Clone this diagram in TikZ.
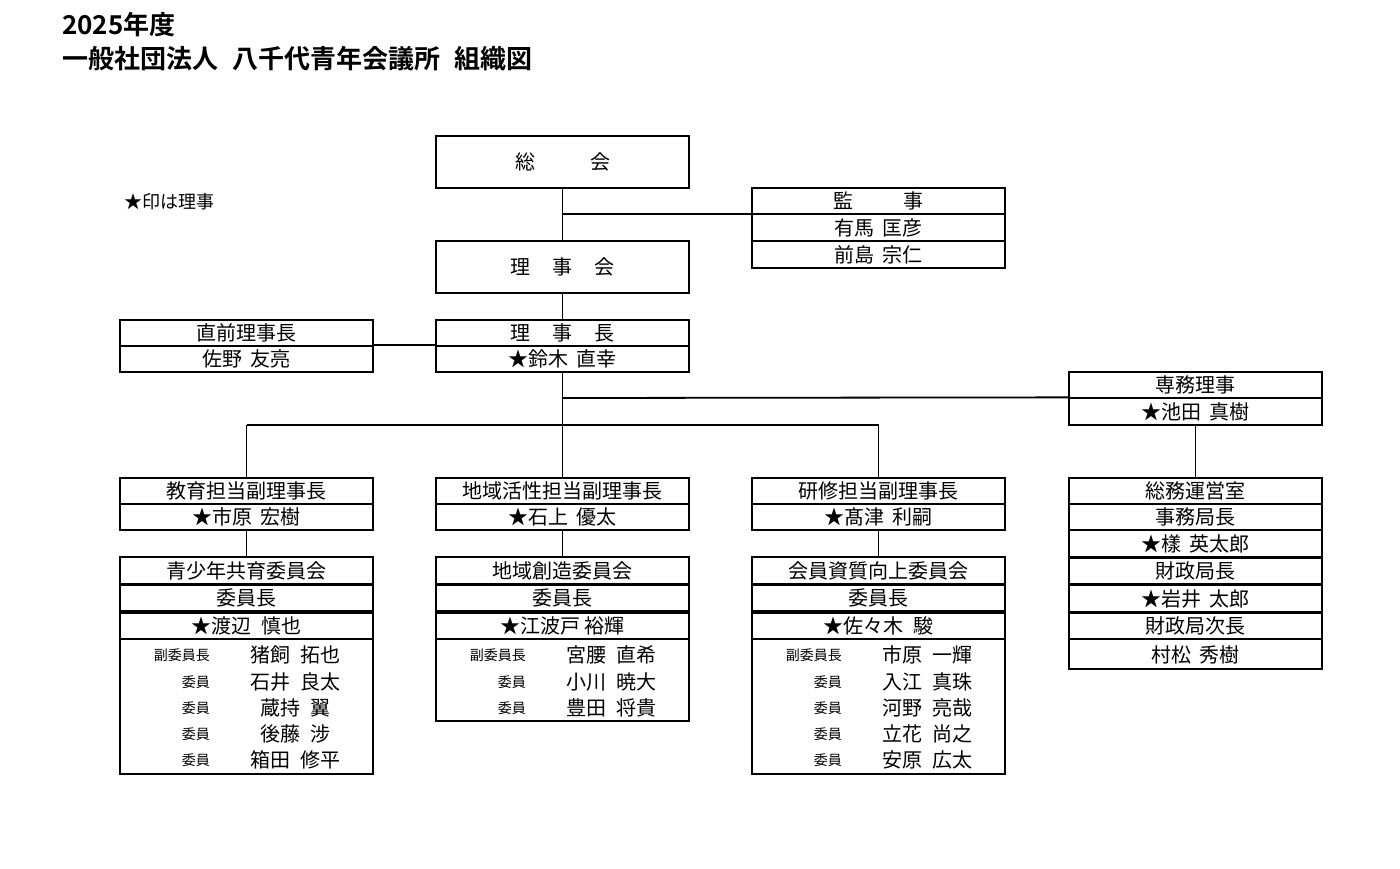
\documentclass[tikz,border=0pt]{standalone}
\usepackage{fontspec}
\setmainfont{Noto Sans CJK JP}
\newfontfamily\jpb{Noto Sans CJK JP Bold}
\begin{document}
\begin{tikzpicture}[x=1pt,y=-1pt,
  rowb/.style={draw,line width=1.8pt,minimum width=253pt,minimum height=26.5pt,inner sep=0pt,font=\fontsize{20}{20}\selectfont},
  bigb/.style={draw,line width=1.8pt,minimum width=253pt,minimum height=52pt,inner sep=0pt,font=\fontsize{20}{20}\selectfont},
  outer/.style={draw,line width=1.8pt,minimum width=253pt,inner sep=0pt},
  ln/.style={line width=1.8pt},
  lab/.style={anchor=east,inner sep=0pt,font=\fontsize{14}{14}\selectfont},
  nm/.style={inner sep=0pt,font=\fontsize{20}{20}\selectfont}]
\useasboundingbox (0,0) rectangle (1400,868);
\node[anchor=west,inner sep=0pt,font=\jpb\fontsize{26}{26}\selectfont] (t1) at (62,25) {2025年度};
\node[anchor=west,inner sep=0pt,font=\jpb\fontsize{26}{26}\selectfont] (t2) at (62,59) {一般社団法人\hspace{14pt}八千代青年会議所\hspace{14pt}組織図};
\node[anchor=west,inner sep=0pt,font=\fontsize{18}{18}\selectfont] (note) at (124,202) {★印は理事};
% top
\node[bigb] (soukai) at (562.5,162) {総\hspace{55pt}会};
\node[rowb] (kan1) at (878.5,201) {監\hspace{50pt}事};
\node[rowb] (kan2) at (878.5,227.5) {有馬\hspace{8pt}匡彦};
\node[rowb] (kan3) at (878.5,254.5) {前島\hspace{8pt}宗仁};
\node[bigb] (rijikai) at (562.5,267) {理\hspace{22pt}事\hspace{22pt}会};
\node[rowb] (zen1) at (246.5,333) {直前理事長};
\node[rowb] (zen2) at (246.5,359) {佐野\hspace{8pt}友亮};
\node[rowb] (ri1) at (562.5,333) {理\hspace{22pt}事\hspace{22pt}長};
\node[rowb] (ri2) at (562.5,359) {★鈴木\hspace{8pt}直幸};
\node[rowb] (sen1) at (1195.5,385) {専務理事};
\node[rowb] (sen2) at (1195.5,411.5) {★池田\hspace{8pt}真樹};
% VPs
\node[rowb] (v11) at (246.5,491) {教育担当副理事長};
\node[rowb] (v12) at (246.5,517) {★市原\hspace{8pt}宏樹};
\node[rowb] (v21) at (562.5,491) {地域活性担当副理事長};
\node[rowb] (v22) at (562.5,517) {★石上\hspace{8pt}優太};
\node[rowb] (v31) at (878.5,491) {研修担当副理事長};
\node[rowb] (v32) at (878.5,517) {★髙津\hspace{8pt}利嗣};
% soumu
\node[outer,minimum height=191pt] (so) at (1195.5,573.5) {};
\node[rowb] (s1) at (1195.5,491) {総務運営室};
\node[rowb] (s2) at (1195.5,517) {事務局長};
\node[rowb] (s3) at (1195.5,543.5) {★樣\hspace{8pt}英太郎};
\node[rowb] (s4) at (1195.5,571) {財政局長};
\node[rowb] (s5) at (1195.5,598.5) {★岩井\hspace{8pt}太郎};
\node[rowb] (s6) at (1195.5,626) {財政局次長};
\node[nm] (s7) at (1195.5,655) {村松\hspace{8pt}秀樹};
% committees
\node[outer,minimum height=217pt] (c1) at (246.5,665.5) {};
\node[rowb] (c11) at (246.5,570.5) {青少年共育委員会};
\node[rowb] (c12) at (246.5,598) {委員長};
\node[rowb] (c13) at (246.5,626) {★渡辺\hspace{10pt}慎也};
\node[lab] (l11) at (210,655) {副委員長};\node[nm] (n11) at (295,655) {猪飼\hspace{10pt}拓也};
\node[lab] (l12) at (210,682) {委員};\node[nm] (n12) at (295,682) {石井\hspace{10pt}良太};
\node[lab] (l13) at (210,708) {委員};\node[nm] (n13) at (295,708) {蔵持\hspace{10pt}翼};
\node[lab] (l14) at (210,734) {委員};\node[nm] (n14) at (295,734) {後藤\hspace{10pt}涉};
\node[lab] (l15) at (210,760) {委員};\node[nm] (n15) at (295,760) {箱田\hspace{10pt}修平};
\node[outer,minimum height=164pt] (c2) at (562.5,639) {};
\node[rowb] (c21) at (562.5,570.5) {地域創造委員会};
\node[rowb] (c22) at (562.5,598) {委員長};
\node[rowb] (c23) at (562.5,626) {★江波戸\hspace{4pt}裕輝};
\node[lab] (l21) at (526,655) {副委員長};\node[nm] (n21) at (611,655) {宮腰\hspace{10pt}直希};
\node[lab] (l22) at (526,682) {委員};\node[nm] (n22) at (611,682) {小川\hspace{10pt}暁大};
\node[lab] (l23) at (526,708) {委員};\node[nm] (n23) at (611,708) {豊田\hspace{10pt}将貴};
\node[outer,minimum height=217pt] (c3) at (878.5,665.5) {};
\node[rowb] (c31) at (878.5,570.5) {会員資質向上委員会};
\node[rowb] (c32) at (878.5,598) {委員長};
\node[rowb] (c33) at (878.5,626) {★佐々木\hspace{10pt}駿};
\node[lab] (l31) at (842,655) {副委員長};\node[nm] (n31) at (927,655) {市原\hspace{10pt}一輝};
\node[lab] (l32) at (842,682) {委員};\node[nm] (n32) at (927,682) {入江\hspace{10pt}真珠};
\node[lab] (l33) at (842,708) {委員};\node[nm] (n33) at (927,708) {河野\hspace{10pt}亮哉};
\node[lab] (l34) at (842,734) {委員};\node[nm] (n34) at (927,734) {立花\hspace{10pt}尚之};
\node[lab] (l35) at (842,760) {委員};\node[nm] (n35) at (927,760) {安原\hspace{10pt}広太};
% connectors
\coordinate (j1) at (562.5,214);
\coordinate (j2) at (562.5,398);
\coordinate (j3) at (562.5,425);
\coordinate (jl) at (246.5,425);
\coordinate (jr) at (878.5,425);
\draw[ln] (soukai.south) -- (rijikai.north);
\draw[ln] (j1) -- (kan1.south west |- j1);
\draw[ln] (rijikai.south) -- (ri1.north);
\draw[ln] (zen2.north east) -- (ri2.north west);
\draw[ln] (ri2.south) -- (j3);
\draw[ln] (j2) -- (sen2.north west);
\draw[ln] (jl) -- (jr);
\draw[ln] (jl) -- (v11.north);
\draw[ln] (j3) -- (v21.north);
\draw[ln] (jr) -- (v31.north);
\draw[ln] (sen2.south) -- (s1.north);
\draw[ln] (v12.south) -- (c11.north);
\draw[ln] (v22.south) -- (c21.north);
\draw[ln] (v32.south) -- (c31.north);
\end{tikzpicture}
\end{document}
